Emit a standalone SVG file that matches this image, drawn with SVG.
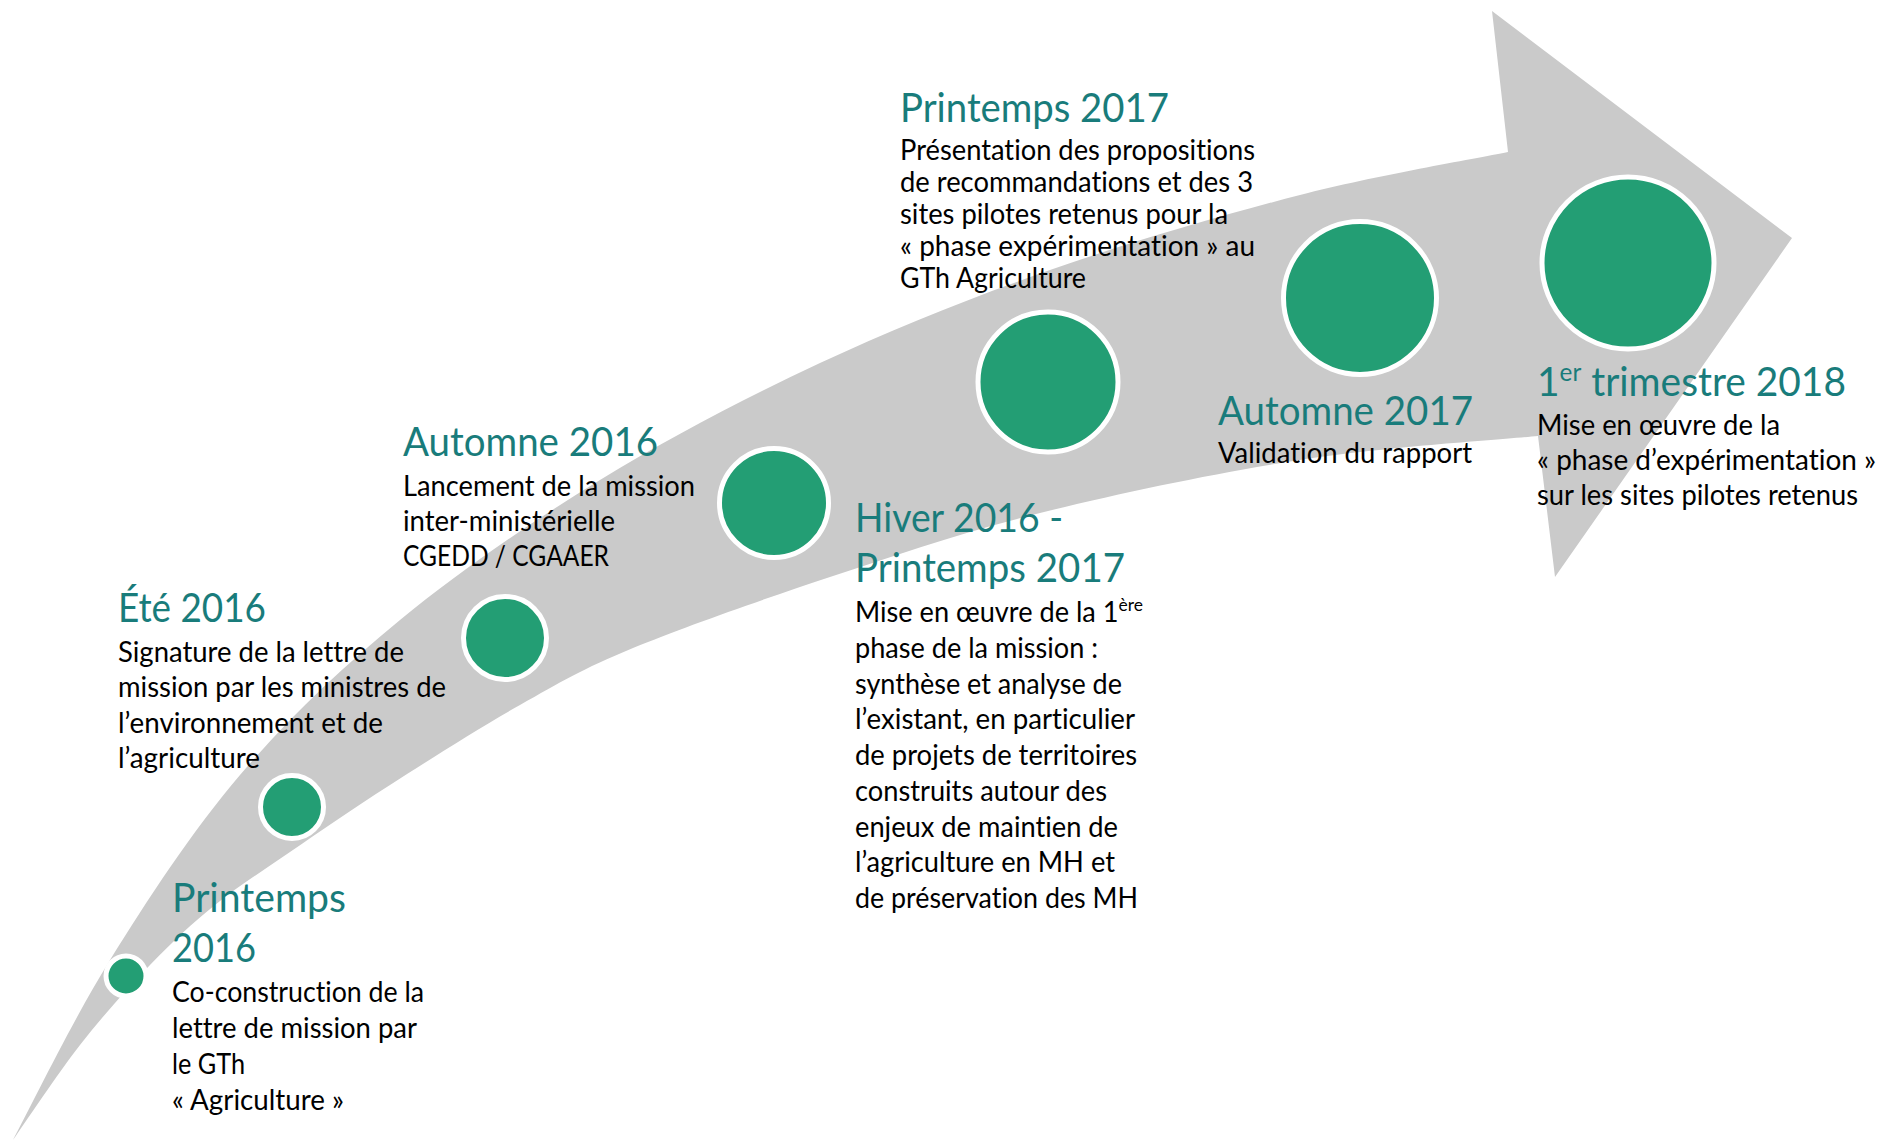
<svg xmlns="http://www.w3.org/2000/svg" width="1878" height="1143" viewBox="0 0 1878 1143">
<style>
.h { font-family: Lato, "Open Sans", "Liberation Sans", sans-serif; font-size: 40px; fill: #197c7b; font-variant-ligatures: none; }
.b { font-family: Lato, "Open Sans", "Liberation Sans", sans-serif; font-size: 28px; fill: #000; font-variant-ligatures: none; }
.dot { fill: #239e74; stroke: #ffffff; stroke-width: 5; }
</style>
<rect width="1878" height="1143" fill="#ffffff"/>
<g id="connectors">
<path id="timeline-arrow" fill="#cacaca" d="M13,1140 C29.2,1110 72.2,1020.8 110,960 C147.8,899.2 191.7,831.7 240,775 C288.3,718.3 340,669.2 400,620 C460,570.8 530,522.8 600,480 C670,437.2 745,398 820,363 C895,328 970,298 1050,270 C1130,242 1223.7,214.7 1300,195 C1376.3,175.3 1473.3,159.2 1508,152 L1492,11 L1792,238 L1555,577 L1538,436 C1498.3,440 1383,447.2 1300,460 C1217,472.8 1118.3,493.5 1040,513 C961.7,532.5 897.8,554.5 830,577 C762.2,599.5 684.7,626.7 633,648 C581.3,669.3 560.5,682.2 520,705 C479.5,727.8 428.3,760.5 390,785 C351.7,809.5 319.2,832 290,852 C260.8,872 238.3,886.2 215,905 C191.7,923.8 172.5,941.7 150,965 C127.5,988.3 102.8,1015.8 80,1045 C57.2,1074.2 24.2,1124.2 13,1140 Z"/>
</g>
<g id="printemps-2016">
<circle class="dot" cx="126" cy="976" r="20"/>
<text class="h" x="172" y="912" textLength="174" lengthAdjust="spacingAndGlyphs">Printemps</text>
<text class="h" x="172" y="962" textLength="84" lengthAdjust="spacingAndGlyphs">2016</text>
<text class="b" x="172" y="1002" textLength="252" lengthAdjust="spacingAndGlyphs">Co-construction de la</text>
<text class="b" x="172" y="1038" textLength="245" lengthAdjust="spacingAndGlyphs">lettre de mission par</text>
<text class="b" x="172" y="1074" textLength="73" lengthAdjust="spacingAndGlyphs">le GTh</text>
<text class="b" x="172" y="1110" textLength="172" lengthAdjust="spacingAndGlyphs">« Agriculture »</text>
</g>
<g id="ete-2016">
<circle class="dot" cx="292" cy="807" r="31.5"/>
<text class="h" x="118" y="622" textLength="148" lengthAdjust="spacingAndGlyphs">Été 2016</text>
<text class="b" x="118" y="662" textLength="286" lengthAdjust="spacingAndGlyphs">Signature de la lettre de</text>
<text class="b" x="118" y="697" textLength="328" lengthAdjust="spacingAndGlyphs">mission par les ministres de</text>
<text class="b" x="118" y="733" textLength="265" lengthAdjust="spacingAndGlyphs">l’environnement et de</text>
<text class="b" x="118" y="768" textLength="142" lengthAdjust="spacingAndGlyphs">l’agriculture</text>
</g>
<g id="automne-2016">
<circle class="dot" cx="505" cy="638" r="41.5"/>
<text class="h" x="403" y="456" textLength="255" lengthAdjust="spacingAndGlyphs">Automne 2016</text>
<text class="b" x="403" y="496" textLength="292" lengthAdjust="spacingAndGlyphs">Lancement de la mission</text>
<text class="b" x="403" y="531" textLength="212" lengthAdjust="spacingAndGlyphs">inter-ministérielle</text>
<text class="b" x="403" y="566" textLength="206" lengthAdjust="spacingAndGlyphs">CGEDD / CGAAER</text>
</g>
<g id="hiver-2016">
<circle class="dot" cx="774" cy="503" r="54.5"/>
<text class="h" x="855" y="532" textLength="208" lengthAdjust="spacingAndGlyphs">Hiver 2016 -</text>
<text class="h" x="855" y="582" textLength="270" lengthAdjust="spacingAndGlyphs">Printemps 2017</text>
<text class="b" x="855" y="622" textLength="288" lengthAdjust="spacingAndGlyphs">Mise en œuvre de la 1<tspan font-size="18" dy="-11">ère</tspan></text>
<text class="b" x="855" y="658" textLength="243" lengthAdjust="spacingAndGlyphs">phase de la mission :</text>
<text class="b" x="855" y="694" textLength="267" lengthAdjust="spacingAndGlyphs">synthèse et analyse de</text>
<text class="b" x="855" y="729" textLength="280" lengthAdjust="spacingAndGlyphs">l’existant, en particulier</text>
<text class="b" x="855" y="765" textLength="282" lengthAdjust="spacingAndGlyphs">de projets de territoires</text>
<text class="b" x="855" y="801" textLength="252" lengthAdjust="spacingAndGlyphs">construits autour des</text>
<text class="b" x="855" y="837" textLength="263" lengthAdjust="spacingAndGlyphs">enjeux de maintien de</text>
<text class="b" x="855" y="872" textLength="260" lengthAdjust="spacingAndGlyphs">l’agriculture en MH et</text>
<text class="b" x="855" y="908" textLength="283" lengthAdjust="spacingAndGlyphs">de préservation des MH</text>
</g>
<g id="printemps-2017">
<circle class="dot" cx="1048" cy="382" r="70"/>
<text class="h" x="900" y="122" textLength="269" lengthAdjust="spacingAndGlyphs">Printemps 2017</text>
<text class="b" x="900" y="160" textLength="355" lengthAdjust="spacingAndGlyphs">Présentation des propositions</text>
<text class="b" x="900" y="192" textLength="353" lengthAdjust="spacingAndGlyphs">de recommandations et des 3</text>
<text class="b" x="900" y="224" textLength="328" lengthAdjust="spacingAndGlyphs">sites pilotes retenus pour la</text>
<text class="b" x="900" y="256" textLength="355" lengthAdjust="spacingAndGlyphs">« phase expérimentation » au</text>
<text class="b" x="900" y="288" textLength="186" lengthAdjust="spacingAndGlyphs">GTh Agriculture</text>
</g>
<g id="automne-2017">
<circle class="dot" cx="1360" cy="298" r="76.5" stroke-width="5.5"/>
<text class="h" x="1218" y="425" textLength="255" lengthAdjust="spacingAndGlyphs">Automne 2017</text>
<text class="b" x="1218" y="463" textLength="254" lengthAdjust="spacingAndGlyphs">Validation du rapport</text>
</g>
<g id="trimestre-2018">
<circle class="dot" cx="1628" cy="263" r="86" stroke-width="6"/>
<text class="h" x="1537" y="396" textLength="309" lengthAdjust="spacingAndGlyphs">1<tspan font-size="25" dy="-15">er</tspan><tspan dy="15"> trimestre 2018</tspan></text>
<text class="b" x="1537" y="435" textLength="243" lengthAdjust="spacingAndGlyphs">Mise en œuvre de la</text>
<text class="b" x="1537" y="470" textLength="339" lengthAdjust="spacingAndGlyphs">« phase d’expérimentation »</text>
<text class="b" x="1537" y="505" textLength="321" lengthAdjust="spacingAndGlyphs">sur les sites pilotes retenus</text>
</g>
</svg>
